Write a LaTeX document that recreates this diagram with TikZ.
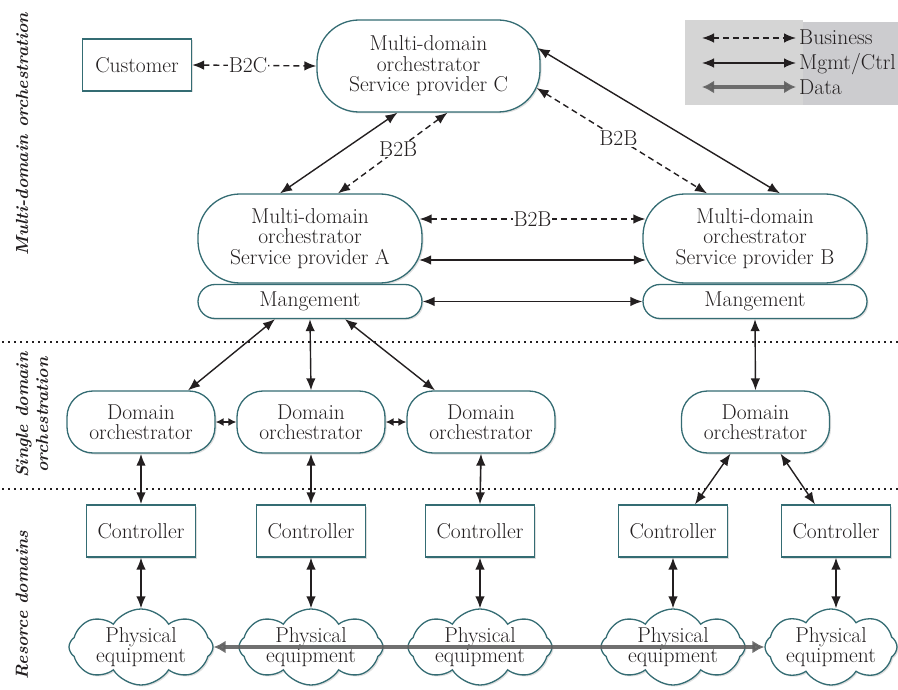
\documentclass[tikz,border=0pt]{standalone}
\usepackage{fontspec}
\usetikzlibrary{arrows.meta,shapes.symbols,shadows,calc}
\definecolor{teal1}{RGB}{52,108,115}
\definecolor{ink}{RGB}{35,31,32}
\definecolor{legA}{RGB}{213,213,213}
\definecolor{legB}{RGB}{204,204,207}
\begin{document}
\begin{tikzpicture}[x=1pt,y=-1pt,
  font=\fontsize{21.5}{20.5}\selectfont, text=ink,
  shd/.style={drop shadow={shadow xshift=1.5pt,shadow yshift=-1.5pt,opacity=0.25}},
  bigsty/.style={draw=teal1,line width=1.3pt,fill=white,rounded corners=42pt,
    minimum width=224pt,minimum height=89pt,align=center,inner sep=0pt,shd},
  mgsty/.style={draw=teal1,line width=1.3pt,fill=white,rounded corners=17pt,
    minimum width=224pt,minimum height=34pt,inner sep=0pt,shd},
  dosty/.style={draw=teal1,line width=1.3pt,fill=white,rounded corners=26pt,
    minimum width=148pt,minimum height=62pt,align=center,inner sep=0pt,shd},
  boxsty/.style={draw=teal1,line width=1.3pt,fill=white,
    minimum width=109pt,minimum height=52pt,inner sep=0pt,shd},
  cloudsty/.style={cloud,cloud puffs=8,cloud puff arc=115,cloud ignores aspect,
    draw=teal1,line width=1.3pt,fill=white,minimum width=144pt,minimum height=76pt,
    inner sep=0pt,shd},
  conn/.style={draw=ink,line width=1.4pt,{Latex[length=12pt,width=9.5pt]}-{Latex[length=12pt,width=9.5pt]}},
  biz/.style={conn,dash pattern=on 6pt off 4pt},
  small/.style={draw=ink,line width=1.4pt,{Latex[length=8pt,width=8pt]}-{Latex[length=8pt,width=8pt]}},
  datasty/.style={draw=black!62,line width=4.5pt,opacity=0.9,
    {Latex[length=12pt,width=13pt]}-{Latex[length=12pt,width=13pt]}},
  lab/.style={fill=white,inner sep=1pt},
  side/.style={rotate=90,font=\fontsize{17.5}{20}\selectfont\bfseries\itshape,align=center},
  sep/.style={draw=ink,line width=1.2pt,dash pattern=on 1.5pt off 4.5pt}
]
\useasboundingbox (0,0) rectangle (898,690);

% legend
\fill[legA] (685,20) rectangle (803,105);
\fill[legB] (803,22) rectangle (898,105);
\coordinate (b1) at (702,38); \coordinate (b2) at (796,38);
\coordinate (m1) at (702,63); \coordinate (m2) at (796,63);
\coordinate (d1) at (702,87); \coordinate (d2) at (796,87);
\draw[biz] (b1) -- (b2);
\draw[conn] (m1) -- (m2);
\draw[datasty] (d1) -- (d2);
\node[anchor=base west,inner sep=0pt] (tb) at (799,45) {Business};
\node[anchor=base west,inner sep=0pt] (tm) at (799,70) {Mgmt/Ctrl};
\node[anchor=base west,inner sep=0pt] (td) at (799,95) {Data};

% separators
\coordinate (s1a) at (2,342); \coordinate (s1b) at (898,342);
\coordinate (s2a) at (2,489); \coordinate (s2b) at (898,489);
\draw[sep] (s1a) -- (s1b);
\draw[sep] (s2a) -- (s2b);

% side labels
\node[side] (l1) at (22,134) {Multi-domain orchestration};
\node[side] (l2) at (32,415) {Single domain\\orchestration};
\node[side] (l3) at (22,605) {Resorce domains};

% nodes
\node[boxsty] (cust) at (137,65) {Customer};
\node[bigsty,minimum height=92pt,minimum width=223pt] (C) at (428.5,66) {Multi-domain\\orchestrator\\Service provider C};
\node[bigsty] (A) at (310,238.5) {Multi-domain\\orchestrator\\Service provider A};
\node[bigsty] (B) at (755,238.5) {Multi-domain\\orchestrator\\Service provider B};
\node[mgsty] (mA) at (310,301.5) {Mangement};
\node[mgsty] (mB) at (755,301.5) {Mangement};

\node[dosty] (do1) at (141,422) {Domain\\orchestrator};
\node[dosty] (do2) at (311,422) {Domain\\orchestrator};
\node[dosty] (do3) at (481,422) {Domain\\orchestrator};
\node[dosty] (do4) at (755.5,422) {Domain\\orchestrator};

\node[boxsty] (c1) at (141,531) {Controller};
\node[boxsty] (c2) at (311,531) {Controller};
\node[boxsty] (c3) at (480,531) {Controller};
\node[boxsty] (c4) at (673,531) {Controller};
\node[boxsty] (c5) at (836,531) {Controller};

\node[cloudsty,label={[align=center]center:{Physical\\equipment}}] (pe1) at (141,647) {};
\node[cloudsty,label={[align=center]center:{Physical\\equipment}}] (pe2) at (311,647) {};
\node[cloudsty,label={[align=center]center:{Physical\\equipment}}] (pe3) at (480,647) {};
\node[cloudsty,label={[align=center]center:{Physical\\equipment}}] (pe4) at (673,647) {};
\node[cloudsty,minimum width=132pt,label={[align=center]center:{Physical\\equipment}}] (pe5) at (831,647) {};

% connectors
\draw[biz] (cust.east) -- node[lab,pos=0.45]{B2C} (C.west);
\draw[conn] ([xshift=-31pt]C.south) -- ([xshift=-30pt]A.north);
\draw[biz] ([xshift=19pt]C.south) -- node[lab,pos=0.45]{B2B} ([xshift=28pt]A.north);
\draw[conn] ([xshift=-3pt,yshift=18pt]C.east) -- ([xshift=25pt]B.north);
\draw[biz] ([xshift=-4pt,yshift=-22pt]C.east) -- node[lab,pos=0.48]{B2B} ([xshift=-48pt]B.north);
\draw[biz] ([xshift=-3pt,yshift=19.5pt]A.east) -- node[lab]{B2B} ([xshift=3pt,yshift=19.5pt]B.west);
\draw[conn] ([xshift=-3.5pt,yshift=-21.5pt]A.east) -- ([xshift=3.5pt,yshift=-21.5pt]B.west);
\draw[conn] (mA.east) -- (mB.west);

\draw[conn] ([xshift=-35pt]mA.south) -- ([xshift=47pt]do1.north);
\draw[conn] (mA.south) -- (do2.north);
\draw[conn] ([xshift=35pt]mA.south) -- ([xshift=-46pt]do3.north);
\draw[conn] (mB.south) -- (do4.north);

\draw[small] (do1.east) -- (do2.west);
\draw[small] (do2.east) -- (do3.west);

\draw[conn,line width=2pt] (do1.south) -- (c1.north);
\draw[conn,line width=2pt] (do2.south) -- (c2.north);
\draw[conn,line width=1.6pt] (do3.south) -- (c3.north);
\draw[conn] ([xshift=-25pt]do4.south) -- ([xshift=22pt]c4.north);
\draw[conn] ([xshift=25pt]do4.south) -- ([xshift=-21pt]c5.north);

\draw[conn] (c1.south) -- (pe1.north);
\draw[conn] (c2.south) -- (pe2.north);
\draw[conn] (c3.south) -- (pe3.north);
\draw[conn] (c4.south) -- (pe4.north);
\draw[conn] (c5.south) -- (c5.south |- pe5.north);

\draw[datasty] (pe1.east) -- (pe5.west);
\end{tikzpicture}
\end{document}
